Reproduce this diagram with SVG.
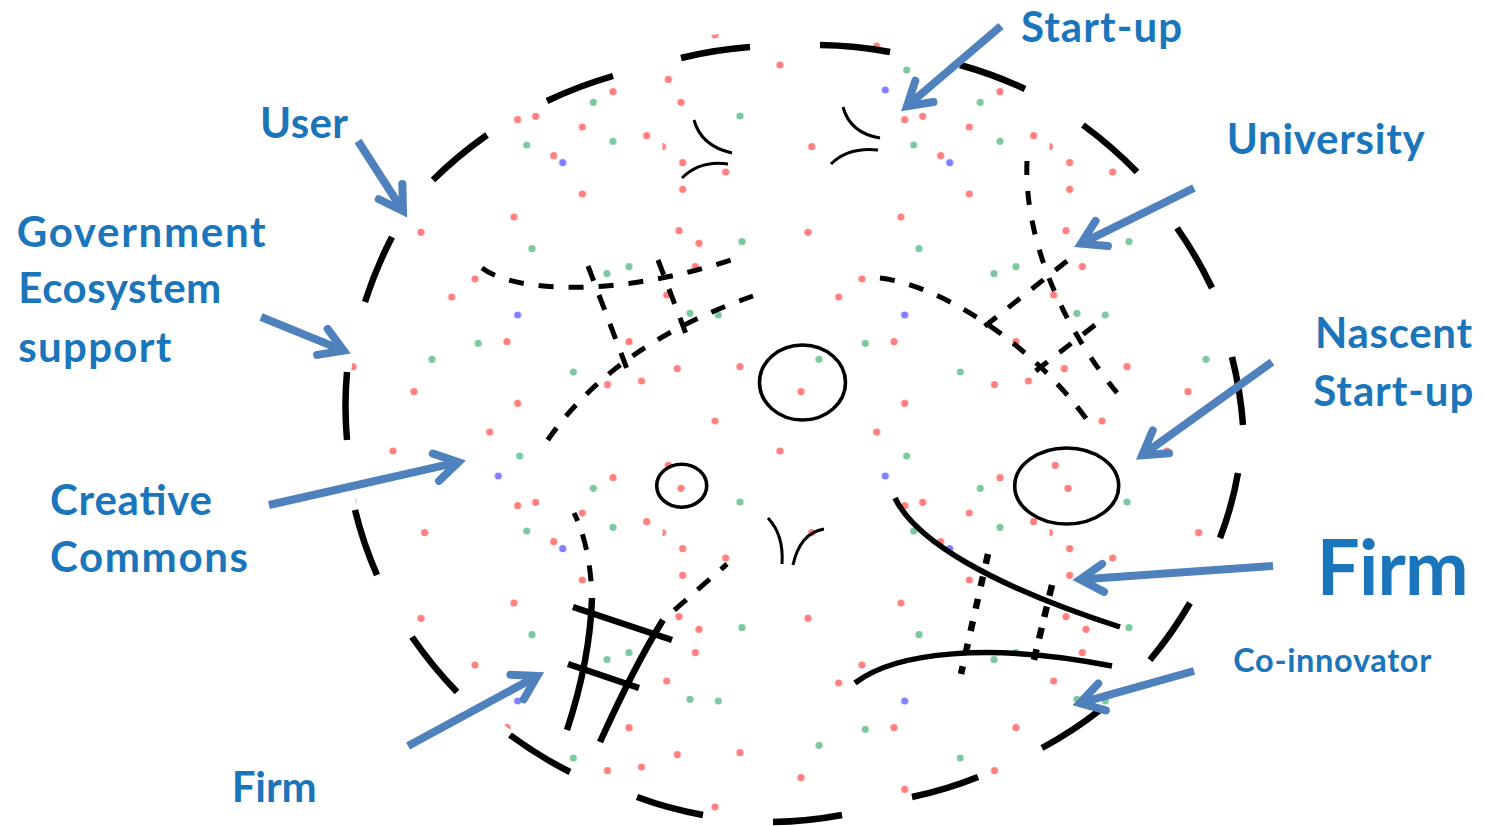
<svg xmlns="http://www.w3.org/2000/svg" width="1485" height="826" viewBox="0 0 1485 826">
<defs>
<style>
.bd{fill:none;stroke:#000;stroke-width:6.5;stroke-linecap:butt}
.dl{fill:none;stroke:#000;stroke-width:5;stroke-dasharray:15 15}
.solid{fill:none;stroke:#000;stroke-width:5.5}
.lad{fill:none;stroke:#000;stroke-width:6.5}
.thin{fill:none;stroke:#000;stroke-width:3}
.ring{fill:none;stroke:#000;stroke-width:3.6}
.dot{fill:none;stroke:#000;stroke-width:6.5}
.arrow{fill:none;stroke:#4F81BD;stroke-width:8;marker-end:url(#ah)}
.lbl{font-family:Lato,"Open Sans",sans-serif;font-weight:bold;fill:#1B75BB;font-size:42px}
.r{fill:#FF7F7F}.g{fill:#7DC8A0}.b{fill:#7F7FFF}
</style>
<marker id="ah" markerUnits="userSpaceOnUse" orient="auto" refX="0" refY="0" markerWidth="60" markerHeight="60" viewBox="-30 -30 60 60" overflow="visible">
<path d="M-23,-14 L0,0 L-23,14" fill="none" stroke="#4F81BD" stroke-width="8" stroke-linecap="round" stroke-linejoin="miter"/>
</marker>
<pattern id="dotpat" patternUnits="userSpaceOnUse" x="0" y="0" width="387" height="386" patternTransform="translate(662.5 30)">
<g>
<circle class="r" cx="52.5" cy="5" r="3.6"/>
<circle class="r" cx="117.5" cy="35" r="3.6"/>
<circle class="r" cx="5.8" cy="49.3" r="3.6"/>
<circle class="r" cx="337.5" cy="61.7" r="3.6"/>
<circle class="g" cx="317.8" cy="72.3" r="3.6"/>
<circle class="r" cx="18.5" cy="72.3" r="3.6"/>
<circle class="g" cx="77.5" cy="86" r="3.6"/>
<circle class="r" cx="242.2" cy="89.7" r="3.6"/>
<circle class="r" cx="260.2" cy="86.3" r="3.6"/>
<circle class="r" cx="306.8" cy="97" r="3.6"/>
<circle class="g" cx="251.2" cy="115" r="3.6"/>
<circle class="g" cx="337.5" cy="111.3" r="3.6"/>
<circle class="r" cx="371.2" cy="105.7" r="3.6"/>
<circle class="r" cx="0" cy="116.7" r="3.6"/>
<circle class="r" cx="278.2" cy="125.7" r="3.6"/>
<circle class="b" cx="287.2" cy="132.7" r="3.6"/>
<circle class="r" cx="20.2" cy="132.7" r="3.6"/>
<circle class="r" cx="63.2" cy="142" r="3.6"/>
<circle class="r" cx="20.2" cy="159.3" r="3.6"/>
<circle class="r" cx="306.8" cy="164" r="3.6"/>
<circle class="r" cx="238.5" cy="187" r="3.6"/>
<circle class="r" cx="145.5" cy="202.3" r="3.6"/>
<circle class="r" cx="16.5" cy="200.7" r="3.6"/>
<circle class="r" cx="36.5" cy="213.3" r="3.6"/>
<circle class="g" cx="79.5" cy="211.7" r="3.6"/>
<circle class="g" cx="256.5" cy="218.7" r="3.6"/>
<circle class="g" cx="353.5" cy="236.7" r="3.6"/>
<circle class="g" cx="331.5" cy="243.7" r="3.6"/>
<circle class="r" cx="32.8" cy="236.7" r="3.6"/>
<circle class="r" cx="199.5" cy="249" r="3.6"/>
<circle class="r" cx="176.2" cy="267" r="3.6"/>
<circle class="r" cx="4.2" cy="265" r="3.6"/>
<circle class="b" cx="242.2" cy="285" r="3.6"/>
<circle class="g" cx="27.5" cy="283.3" r="3.6"/>
<circle class="g" cx="55.8" cy="285" r="3.6"/>
<circle class="r" cx="214.2" cy="16" r="3.6"/>
<circle class="g" cx="244.2" cy="40" r="3.6"/>
<circle class="b" cx="222.8" cy="60" r="3.6"/>
<circle class="r" cx="149.2" cy="116.7" r="3.6"/>
<circle class="g" cx="202.8" cy="313.3" r="3.6"/>
<circle class="r" cx="231.5" cy="311.7" r="3.6"/>
<circle class="g" cx="156.5" cy="329.3" r="3.6"/>
<circle class="g" cx="297.8" cy="342" r="3.6"/>
<circle class="r" cx="353.5" cy="311.7" r="3.6"/>
<circle class="r" cx="14.8" cy="338.7" r="3.6"/>
<circle class="r" cx="77.5" cy="336.7" r="3.6"/>
<circle class="r" cx="366" cy="351" r="3.6"/>
<circle class="r" cx="332" cy="354.7" r="3.6"/>
<circle class="r" cx="138.5" cy="361.7" r="3.6"/>
<circle class="r" cx="242.2" cy="373.3" r="3.6"/>
</g>
</pattern>
</defs>
<rect width="1485" height="826" fill="#fff"/>
<g id="ecosystem-dots">
<ellipse cx="795" cy="424" rx="448" ry="396" fill="url(#dotpat)"/>
</g>
<g id="ecosystem-boundary">
<path class="bd" d="M681,58 Q715,49.6 750,47"/>
<path class="bd" d="M820,45 Q855.5,45.5 890,52"/>
<path class="bd" d="M960,65 Q994,74.4 1025,89"/>
<path class="bd" d="M1083,125 Q1112.2,146.5 1137,172"/>
<path class="bd" d="M1177,228 Q1197.2,256.8 1212,288"/>
<path class="bd" d="M1232,357 Q1240.5,390.7 1243,425"/>
<path class="bd" d="M1238,473 Q1232.2,506.3 1220,538"/>
<path class="bd" d="M1190,603 Q1172.6,632.9 1150,660"/>
<path class="bd" d="M1100,710 Q1073,731.2 1042,748"/>
<path class="bd" d="M978,777 Q946.2,789.8 912,797"/>
<path class="bd" d="M842,815 Q807.1,821.5 773,822"/>
<path class="bd" d="M703,815 Q669,808.8 637,797"/>
<path class="bd" d="M570,772 Q538.1,755.8 510,735"/>
<path class="bd" d="M457,692 Q432,666.1 412,637"/>
<path class="bd" d="M377,575 Q363.1,543.2 355,510"/>
<path class="bd" d="M347,440 Q344,405.8 347,372"/>
<path class="bd" d="M365,302 Q375.7,268.4 392,237"/>
<path class="bd" d="M433,180 Q457.7,155.6 487,135"/>
<path class="bd" d="M547,101 Q578.4,86 613,76"/>
</g>
<g id="user-region">
<path class="dl" d="M482,268 C515,293 620,298 740,257"/>
<path class="dl" style="stroke-dasharray:16 15" d="M588,266 L627,369"/>
<path class="dl" style="stroke-dasharray:16 15" d="M658,260 L686,334"/>
</g>
<g id="creative-commons-region">
<path class="dl" d="M753,296 C690,318 600,360 543,447"/>
</g>
<g id="university-region">
<path class="dl" d="M880,278 C945,286 1040,350 1092,427"/>
<path class="dl" style="stroke-dasharray:14 16" d="M1027,161 C1024,230 1055,320 1123,400"/>
<path class="dl" d="M1067,261 L980,330"/>
<path class="dl" d="M1095,325 L1033,373"/>
</g>
<g id="startup-marks">
<path class="thin" d="M694,120 Q701,146 732,153"/>
<path class="thin" d="M682,178 Q700,160 728,164"/>
<path class="thin" d="M843,107 Q850,133 880,138"/>
<path class="thin" d="M831,164 Q848,147 878,150"/>
<path class="thin" d="M768,518 Q784,535 782,564"/>
<path class="thin" d="M793,565 Q800,533 824,529"/>
</g>
<g id="nascent-startups">
<ellipse class="ring" cx="681.7" cy="485.7" rx="25" ry="21.5"/>
<ellipse class="ring" cx="802.5" cy="382.5" rx="43" ry="37.5"/>
<ellipse class="ring" cx="1066.7" cy="486" rx="52" ry="38"/>
</g>
<g id="firm-left">
<path class="dl" style="stroke-dasharray:9 14 16 16 16 40" d="M574,513 Q590,545 592,597"/>
<path class="dl" style="stroke-dasharray:8 15 16 15 16 40" d="M727,564 L663,620"/>
<path class="lad" d="M592,598 Q590,660 567,730"/>
<path class="lad" d="M663,620 Q635,665 600,742"/>
<path class="lad" d="M573,607 L672,640"/>
<path class="lad" d="M568,664 L639,688"/>
</g>
<g id="firm-right">
<path class="solid" d="M895,498 C915,540 990,585 1120,627"/>
<path class="solid" d="M855,683 C895,652 990,642 1112,666"/>
<path class="dot" style="stroke-dasharray:10 13" d="M988,554 L961,674"/>
<path class="dot" style="stroke-dasharray:11 11" d="M1052,585 L1033,664"/>
</g>
<g id="connectors">
<path class="arrow" d="M1001,26 L906.9,106.3"/>
<path class="arrow" d="M1194,188 L1081.1,243.7"/>
<path class="arrow" d="M358,141 L403,211"/>
<path class="arrow" d="M261,317 L343.7,350.6"/>
<path class="arrow" d="M269,505 L458.4,462.2"/>
<path class="arrow" d="M1272,362 L1142.2,455.3"/>
<path class="arrow" d="M1273,566 L1080.1,579.5"/>
<path class="arrow" d="M1194,671 L1079.9,703.2"/>
<path class="arrow" d="M408,746 L537.3,676"/>
</g>
<g id="label-startup"><text class="lbl" x="1021" y="41.7" textLength="161">Start-up</text></g>
<g id="label-user"><text class="lbl" x="260" y="138.3" textLength="88">User</text></g>
<g id="label-university"><text class="lbl" x="1226.7" y="154" textLength="198">University</text></g>
<g id="label-government">
<text class="lbl" x="16.7" y="246.7" textLength="249">Government</text>
<text class="lbl" x="18.3" y="303.3" textLength="203">Ecosystem</text>
<text class="lbl" x="18.3" y="361.7" textLength="153">support</text>
</g>
<g id="label-nascent">
<text class="lbl" x="1315" y="348.3" textLength="157">Nascent</text>
<text class="lbl" x="1313.3" y="406" textLength="160">Start-up</text>
</g>
<g id="label-creative">
<text class="lbl" x="50" y="515" textLength="162">Creative</text>
<text class="lbl" x="50" y="571.7" textLength="198">Commons</text>
</g>
<g id="label-firm-right"><text class="lbl" x="1316.7" y="595" style="font-size:76px" textLength="152">Firm</text></g>
<g id="label-coinnovator"><text class="lbl" x="1233.3" y="671.7" style="font-size:32.5px" textLength="198">Co-innovator</text></g>
<g id="label-firm-left"><text class="lbl" x="231.7" y="801.7" textLength="85">Firm</text></g>
</svg>
